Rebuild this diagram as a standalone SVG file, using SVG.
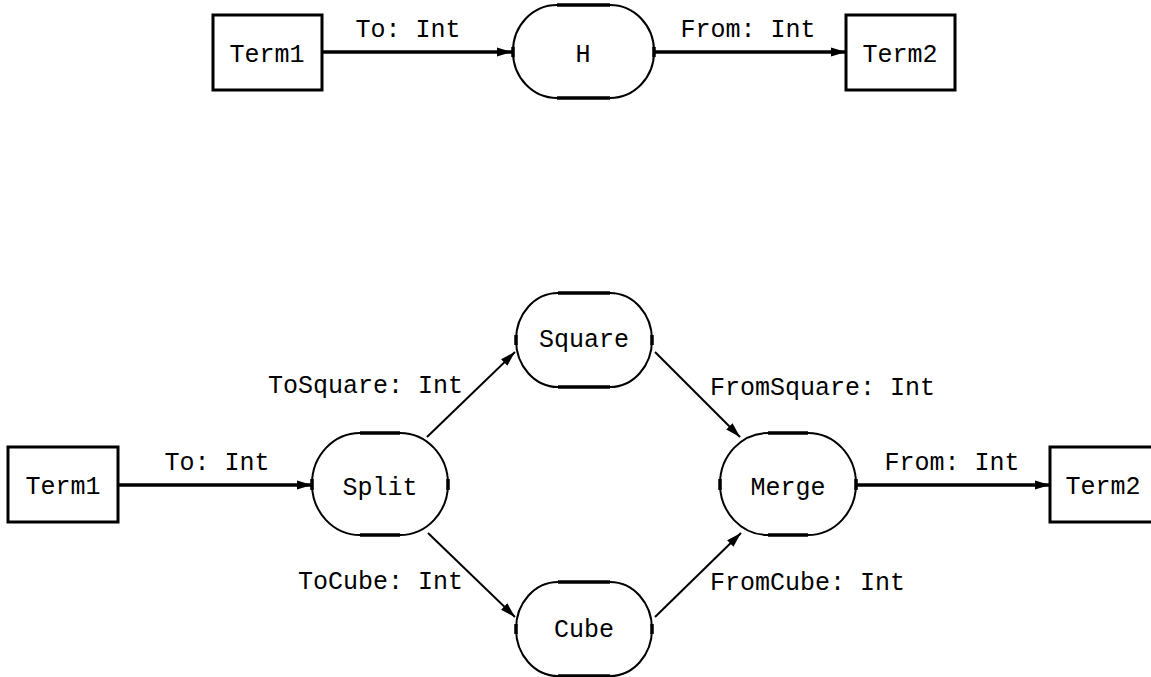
<svg xmlns="http://www.w3.org/2000/svg" width="1151" height="677" viewBox="0 0 1151 677">
  <style>
    .bg { fill: #ffffff; }
    .term { fill: #ffffff; stroke: #000; stroke-width: 3; }
    .proc { fill: #ffffff; stroke: #000; stroke-width: 2; }
    .flat { fill: none; stroke: #000; stroke-width: 3.5; }
    .label { font-family: "Liberation Mono", "DejaVu Sans Mono", monospace; font-size: 25px; fill: #000; }
    .mid { text-anchor: middle; }
    .end { text-anchor: end; }
    .wire { fill: none; stroke: #000; stroke-width: 3.5; }
    .diag { fill: none; stroke: #000; stroke-width: 2; }
  </style>
  <defs>
    <marker id="arrow" markerUnits="userSpaceOnUse" markerWidth="16" markerHeight="10" refX="15" refY="5" orient="auto">
      <path d="M0,0.5 L15,5 L0,9.5 z" fill="#000"/>
    </marker>
  </defs>

  <rect class="bg" x="0" y="0" width="1151" height="677"/>

  <!-- connectors -->
  <g id="connectors">
    <line class="wire" x1="322" y1="52" x2="512" y2="52" marker-end="url(#arrow)"/>
    <line class="wire" x1="654" y1="52" x2="846" y2="52" marker-end="url(#arrow)"/>
    <line class="wire" x1="118" y1="485" x2="312" y2="485" marker-end="url(#arrow)"/>
    <line class="wire" x1="856" y1="485" x2="1050" y2="485" marker-end="url(#arrow)"/>
    <line class="diag" x1="427" y1="437" x2="515" y2="352" marker-end="url(#arrow)"/>
    <line class="diag" x1="655" y1="352" x2="740" y2="437" marker-end="url(#arrow)"/>
    <line class="diag" x1="428" y1="533" x2="515" y2="617" marker-end="url(#arrow)"/>
    <line class="diag" x1="655" y1="617" x2="741" y2="533" marker-end="url(#arrow)"/>

    <text class="label mid" x="408" y="37">To: Int</text>
    <text class="label mid" x="748" y="37">From: Int</text>
    <text class="label mid" x="217" y="470">To: Int</text>
    <text class="label mid" x="952" y="470">From: Int</text>
    <text class="label end" x="463" y="393">ToSquare: Int</text>
    <text class="label end" x="463" y="589">ToCube: Int</text>
    <text class="label" x="710" y="395">FromSquare: Int</text>
    <text class="label" x="710" y="590">FromCube: Int</text>
  </g>

  <!-- upper network -->
  <g id="term1-top">
    <rect class="term" x="213" y="15" width="109" height="75"/>
    <text class="label mid" x="267" y="62">Term1</text>
  </g>
  <g id="h">
    <rect class="proc" x="513" y="5" width="141" height="93" rx="44" ry="46"/>
    <path class="flat" d="M557,5 H610 M557,98 H610 M513,47 V57 M654,47 V57"/>
    <text class="label mid" x="583" y="62">H</text>
  </g>
  <g id="term2-top">
    <rect class="term" x="846" y="15" width="109" height="75"/>
    <text class="label mid" x="900" y="62">Term2</text>
  </g>

  <!-- lower network -->
  <g id="term1-bottom">
    <rect class="term" x="8" y="447" width="110" height="75"/>
    <text class="label mid" x="63" y="494">Term1</text>
  </g>
  <g id="split">
    <rect class="proc" x="312" y="433" width="136" height="102" rx="48" ry="51"/>
    <path class="flat" d="M360,433 H400 M360,535 H400 M312,479 V490 M448,479 V490"/>
    <text class="label mid" x="380" y="495">Split</text>
  </g>
  <g id="square">
    <rect class="proc" x="516" y="293" width="136" height="94" rx="42" ry="47"/>
    <path class="flat" d="M558,293 H610 M558,387 H610 M516,335 V345 M652,335 V345"/>
    <text class="label mid" x="584" y="347">Square</text>
  </g>
  <g id="cube">
    <rect class="proc" x="516" y="582" width="136" height="94" rx="42" ry="47"/>
    <path class="flat" d="M558,582 H610 M558,676 H610 M516,624 V634 M652,624 V634"/>
    <text class="label mid" x="584" y="637">Cube</text>
  </g>
  <g id="merge">
    <rect class="proc" x="720" y="433" width="136" height="102" rx="48" ry="51"/>
    <path class="flat" d="M768,433 H808 M768,535 H808 M720,479 V490 M856,479 V490"/>
    <text class="label mid" x="788" y="495">Merge</text>
  </g>
  <g id="term2-bottom">
    <rect class="term" x="1050" y="447" width="108" height="75"/>
    <text class="label mid" x="1103" y="494">Term2</text>
  </g>
</svg>
